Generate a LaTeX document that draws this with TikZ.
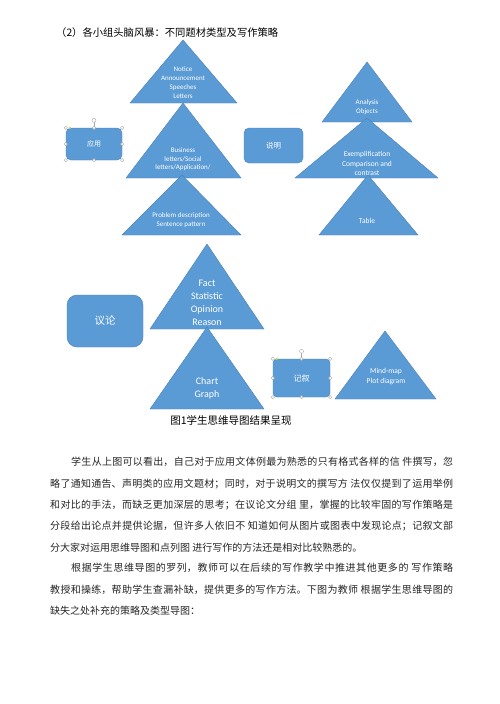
\documentclass[tikz,border=0pt]{standalone}
\usepackage{fontspec}
\setmainfont{Carlito}
\newfontfamily\cjk{Noto Sans CJK SC}
\XeTeXlinebreaklocale "zh"
\XeTeXlinebreakskip=0pt plus 1pt
\usetikzlibrary{calc}
\definecolor{mapblue}{HTML}{5B9BD5}
\definecolor{mapedge}{HTML}{4A7FB5}
\definecolor{handlegray}{HTML}{A6A6A6}
\definecolor{adjyellow}{HTML}{D8D84A}
\tikzset{
  tri/.style={fill=mapblue, draw=mapedge, line width=0.4pt},
  tritext/.style={text=white, align=center, inner sep=0pt},
  typebox/.style={fill=mapblue, draw=mapedge, line width=0.4pt, text=white},
  handle/.style={draw=handlegray, fill=white, line width=0.4pt},
  handleline/.style={draw=handlegray, line width=0.4pt},
  bodytext/.style={anchor=north west, inner sep=0pt, text width=403pt, align=justify,
    text=black!85, font=\cjk\fontsize{10}{21.4}\selectfont}
}

\begin{document}
\begin{tikzpicture}[x=1pt,y=-1pt]
    \useasboundingbox[fill=white] (0,0) rectangle (500,704);
    % title
    \node[anchor=west, inner sep=0pt, font=\cjk\fontsize{10.3}{12}\selectfont] (title) at (56,33)
        {（2）各小组头脑风暴：不同题材类型及写作策略};
    % triangles
    \draw[tri] (183,40) -- (237,103) -- (130,103) -- cycle;
    \draw[tri] (183,103) -- (241,178) -- (126,178) -- cycle;
    \draw[tri] (182,175) -- (241,235) -- (122,235) -- cycle;
    \draw[tri] (367,62) -- (412,122) -- (322,122) -- cycle;
    \draw[tri] (367,118) -- (438,178) -- (295,178) -- cycle;
    \draw[tri] (368,175) -- (418,235) -- (319,235) -- cycle;
    \draw[tri] (207,244) -- (264,329) -- (150,329) -- cycle;
    \draw[tri] (207,327) -- (264,409) -- (150,409) -- cycle;
    \draw[tri] (385,331) -- (436,399) -- (335,399) -- cycle;
    % triangle texts
    \node[tritext, font=\fontsize{7}{9}\selectfont] (notice) at (183,82.5)
        {Notice\\Announcement\\Speeches\\Letters};
    \node[tritext, font=\fontsize{7}{8.6}\selectfont] (business) at (183,159.5)
        {Business\\letters/Social\\letters/Application/};
    \node[tritext, font=\fontsize{7}{9}\selectfont] (problem) at (181,220.5)
        {Problem description\\Sentence pattern};
    \node[tritext, font=\fontsize{7}{9.5}\selectfont] (analysis) at (367,107)
        {Analysis\\Objects};
    \node[tritext, font=\fontsize{7.5}{9.5}\selectfont] (exempl) at (367,163.5)
        {Exemplification\\Comparison and\\contrast};
    \node[tritext, font=\fontsize{7.5}{9}\selectfont] (table) at (367,221) {Table};
    \node[tritext, font=\fontsize{10}{13}\selectfont] (fact) at (207,302.5)
        {Fact\\Statistic\\Opinion\\Reason};
    \node[tritext, font=\fontsize{10}{13}\selectfont] (chart) at (207,388.5)
        {Chart\\Graph};
    \node[tritext, font=\fontsize{7.5}{10}\selectfont] (mindmap) at (386,377)
        {Mind-map\\Plot diagram};
    % type boxes
    \node[typebox, rounded corners=5pt, minimum width=56pt, minimum height=32pt,
        font=\cjk\fontsize{7}{8}\selectfont] (yingyong) at (94,144) {应用};
    \node[typebox, rounded corners=5pt, minimum width=59pt, minimum height=35pt,
        font=\cjk\fontsize{7.5}{8}\selectfont] (shuoming) at (273.5,145.5) {说明};
    \node[typebox, rounded corners=10pt, minimum width=76pt, minimum height=52pt,
        font=\cjk\fontsize{10.5}{12}\selectfont] (yilun) at (105,321) {议论};
    \node[typebox, rounded corners=4pt, minimum width=57pt, minimum height=38pt,
        font=\cjk\fontsize{8}{9}\selectfont] (jixu) at (301.5,378) {记叙};
    % selection handles
    \foreach \b in {yingyong,jixu}{
        \draw[handleline] (\b.north) -- ($(\b.north)+(0,-5.5)$);
        \draw[handle] ($(\b.north)+(0,-7.5)$) circle (2pt);
        \foreach \a in {north west,north,north east,east,south east,south,south west,west}
            \draw[handle] (\b.\a) circle (1.7pt);
        \fill[adjyellow] ($(\b.north west)+(4,0)$) circle (1.2pt);
    }
    % caption
    \node[inner sep=0pt, font=\cjk\fontsize{10.5}{12}\selectfont] (caption) at (231,420)
        {图1学生思维导图结果呈现};
    % body text
    \node[bodytext] (para1) at (50,457) {\tolerance=9999\hspace*{21pt}学生从上图可以看出，自己对于应用文体例最为熟悉的只有格式各样的信 件撰写，忽\linebreak
        略了通知通告、声明类的应用文题材；同时，对于说明文的撰写方 法仅仅提到了运用举例\linebreak
        和对比的手法，而缺乏更加深层的思考；在议论文分组 里，掌握的比较牢固的写作策略是\linebreak
        分段给出论点并提供论据，但许多人依旧不 知道如何从图片或图表中发现论点；记叙文部\linebreak
        分大家对运用思维导图和点列图 进行写作的方法还是相对比较熟悉的。};
    \node[bodytext] (para2) at (50,563) {\tolerance=9999\hspace*{21pt}根据学生思维导图的罗列，教师可以在后续的写作教学中推进其他更多的 写作策略\linebreak
        教授和操练，帮助学生查漏补缺，提供更多的写作方法。下图为教师 根据学生思维导图的\linebreak
        缺失之处补充的策略及类型导图：};
\end{tikzpicture}
\end{document}
